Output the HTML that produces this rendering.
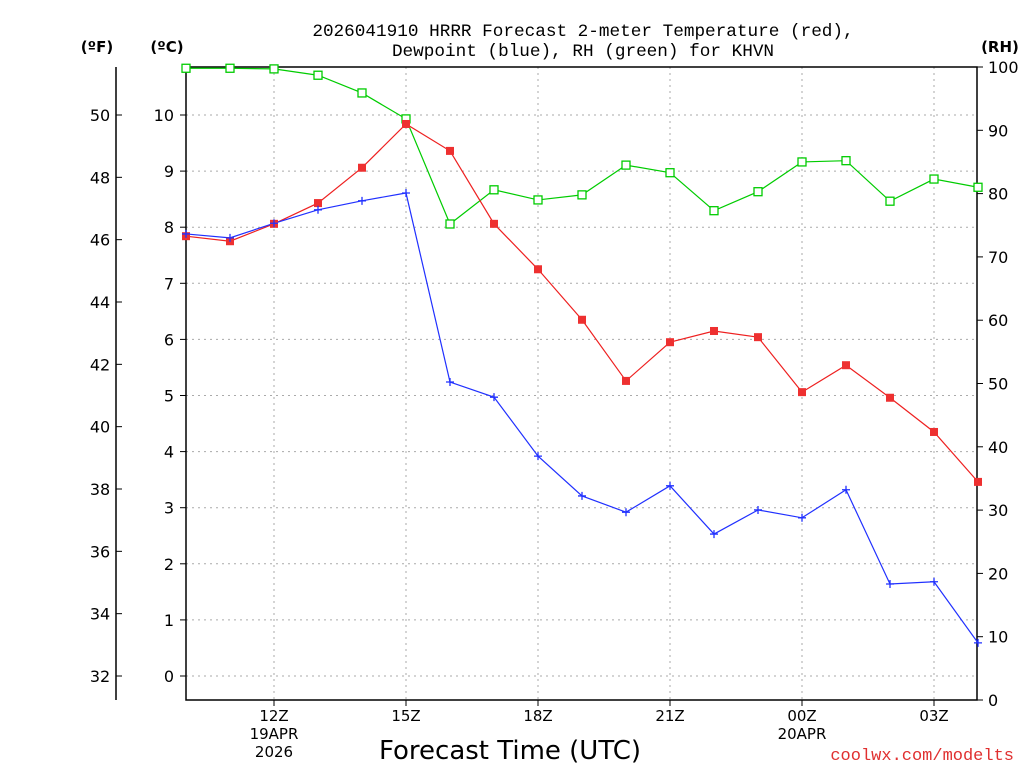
<!DOCTYPE html>
<html><head><meta charset="utf-8"><style>
body{margin:0;background:#fff;width:1024px;height:768px;overflow:hidden}
svg text{font-family:"DejaVu Sans","Liberation Sans",sans-serif;fill:#000}
svg text.mono{font-family:"Liberation Mono","DejaVu Sans Mono",monospace}
</style></head><body>
<svg id="chart" width="1024" height="768" xmlns="http://www.w3.org/2000/svg">
<text class="mono" x="583" y="36" text-anchor="middle" font-size="17.7">2026041910 HRRR Forecast 2-meter Temperature (red),</text>
<text class="mono" x="583" y="56" text-anchor="middle" font-size="17.7">Dewpoint (blue), RH (green) for KHVN</text>
<text x="97" y="52" text-anchor="middle" font-size="15" font-weight="bold">(ºF)</text>
<text x="167" y="52" text-anchor="middle" font-size="15" font-weight="bold">(ºC)</text>
<text x="1000" y="52" text-anchor="middle" font-size="15" font-weight="bold">(RH)</text>
<text x="510" y="759" text-anchor="middle" font-size="26">Forecast Time (UTC)</text>
<text class="mono" x="1014" y="760" text-anchor="end" font-size="17" style="fill:#e03030">coolwx.com/modelts</text>
<g id="grid"></g><g id="axes"></g><g id="series"></g>
</svg>
<script>
const hours=[10,11,12,13,14,15,16,17,18,19,20,21,22,23,24,25,26,27,28];
const tempC=[7.84,7.75,8.06,8.43,9.06,9.84,9.36,8.06,7.25,6.35,5.26,5.95,6.15,6.04,5.06,5.54,4.96,4.35,3.46];
const dewC=[7.88,7.81,8.07,8.31,8.47,8.61,5.24,4.97,3.92,3.21,2.92,3.39,2.53,2.96,2.82,3.32,1.64,1.68,0.59];
const rh=[99.8,99.8,99.7,98.7,95.9,91.8,75.2,80.6,79,79.8,84.5,83.3,77.3,80.3,85,85.2,78.8,82.3,81];
const cTicks=[0,1,2,3,4,5,6,7,8,9,10];
const fTicks=[32,34,36,38,40,42,44,46,48,50];
const rhTicks=[0,10,20,30,40,50,60,70,80,90,100];
const xTicks=[{h:12,l:["12Z","19APR","2026"]},{h:15,l:["15Z"]},{h:18,l:["18Z"]},{h:21,l:["21Z"]},{h:24,l:["00Z","20APR"]},{h:27,l:["03Z"]}];
const L=186,R=977,T=67,B=700;
const xs=h=>L+(h-10)*44;
const yc=c=>676-c*56.1;
const yf=f=>yc((f-32)*5/9);
const yr=r=>B-r*6.33;
const NS="http://www.w3.org/2000/svg";
function mk(p,t,a){const e=document.createElementNS(NS,t);for(const k in a)e.setAttribute(k,a[k]);p.appendChild(e);return e;}
const g=document.getElementById('grid'),ax=document.getElementById('axes'),s=document.getElementById('series');
cTicks.forEach(c=>{const y=yc(c);
 const ln=mk(g,'line',{x1:L,x2:R,y1:y,y2:y,stroke:'#aaa','stroke-dasharray':'2,4'});
 
 mk(ax,'line',{x1:L-6,x2:L,y1:y,y2:y,stroke:'#000'});
 const t=mk(ax,'text',{x:L-12,y:y+6,'text-anchor':'end','font-size':16});t.textContent=c;
 });
fTicks.forEach(f=>{const y=yf(f);
 mk(ax,'line',{x1:116,x2:122,y1:y,y2:y,stroke:'#000'});
 const t=mk(ax,'text',{x:100,y:y+6,'text-anchor':'middle','font-size':16});t.textContent=f;
 });
rhTicks.forEach(r=>{const y=yr(r);
 mk(ax,'line',{x1:R,x2:R+6,y1:y,y2:y,stroke:'#000'});
 const t=mk(ax,'text',{x:988,y:y+6,'font-size':16});t.textContent=r;
 });
xTicks.forEach(o=>{const x=xs(o.h);
 const ln=mk(g,'line',{x1:x,x2:x,y1:T,y2:B,stroke:'#aaa','stroke-dasharray':'2,4'});
 
 mk(ax,'line',{x1:x,x2:x,y1:B,y2:B+6,stroke:'#000'});
 o.l.forEach((s2,i)=>{const t=mk(ax,'text',{x:x,y:721+i*18,'text-anchor':'middle','font-size':15});t.textContent=s2;
 });});
mk(ax,'rect',{x:L,y:T,width:R-L,height:B-T,fill:'none',stroke:'#000','stroke-width':1.5});
mk(ax,'line',{x1:116,x2:116,y1:T,y2:B,stroke:'#000','stroke-width':1.5});
function line(vals,fy,col,name){const pts=hours.map((h,i)=>xs(h)+','+fy(vals[i])).join(' ');
 const p=mk(s,'polyline',{points:pts,fill:'none',stroke:col,'stroke-width':1.2});
 }
line(rh,yr,'#00cc00','rh-line');line(tempC,yc,'#ee2020','temperature-line');line(dewC,yc,'#2030ff','dewpoint-line');
hours.forEach((h,i)=>{const x=xs(h);
 let y=yr(rh[i]);const a=mk(s,'rect',{x:x-4,y:y-4,width:8,height:8,fill:'#fff',stroke:'#00cc00','stroke-width':1.3});
 
 y=yc(tempC[i]);const b=mk(s,'rect',{x:x-4,y:y-4,width:8,height:8,fill:'#ee3030'});
 
 y=yc(dewC[i]);const c=mk(s,'path',{d:`M${x-4},${y}H${x+4}M${x},${y-4}V${y+4}`,stroke:'#2030ff','stroke-width':1.3});
 });
</script>
</body></html>
